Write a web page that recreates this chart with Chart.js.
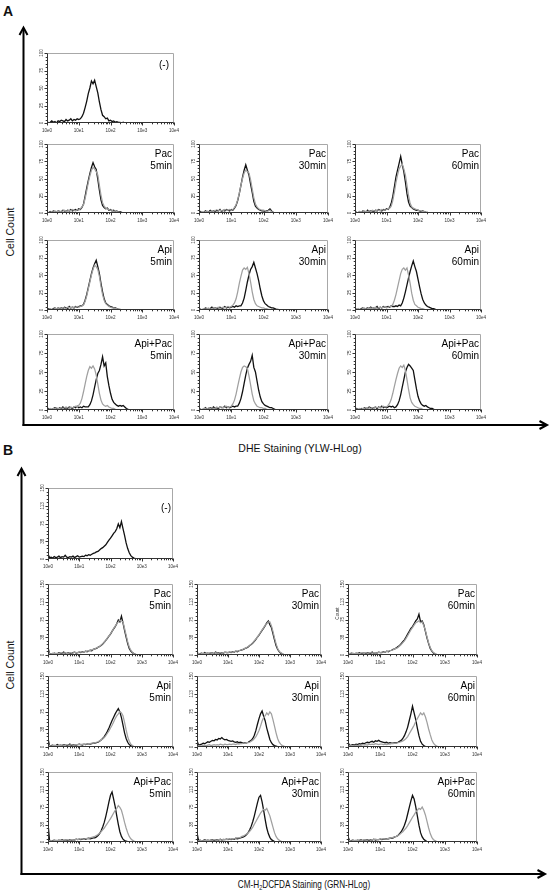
<!DOCTYPE html>
<html><head><meta charset="utf-8">
<script src="https://cdn.jsdelivr.net/npm/chart.js@4.4.1/dist/chart.umd.min.js"></script>
<style>
html,body{margin:0;padding:0;background:#fff;}
#page{position:relative;width:551px;height:893px;overflow:hidden;background:#fff;font-family:"Liberation Sans",Arial,sans-serif;}
#page canvas{position:absolute;}
.lbl{position:absolute;white-space:nowrap;color:#111;line-height:1;}
.rot{transform:translate(-50%,-50%) rotate(-90deg);}
.ctr{transform:translate(-50%,-50%);}
</style></head>
<body><div id="page">
<svg width="551" height="893" style="position:absolute;left:0;top:0">
 <g stroke="#000" stroke-width="2" fill="none">
  <line x1="23.5" y1="28" x2="23.5" y2="426"/>
  <line x1="22.5" y1="425" x2="546" y2="425"/>
  <polyline points="19.5,35 23.5,27.5 27.5,35"/>
  <polyline points="539.5,421 547,425 539.5,429"/>
  <line x1="21.5" y1="469" x2="21.5" y2="875"/>
  <line x1="20.5" y1="874" x2="544" y2="874"/>
  <polyline points="17.5,476 21.5,468.5 25.5,476"/>
  <polyline points="537.5,870 545,874 537.5,878"/>
 </g>
</svg>
<div class="lbl" style="left:3px;top:4px;font-size:14px;font-weight:bold;">A</div>
<div class="lbl" style="left:3px;top:443px;font-size:14px;font-weight:bold;">B</div>
<div class="lbl rot" style="left:10px;top:232px;font-size:10.5px;">Cell Count</div>
<div class="lbl rot" style="left:10px;top:665px;font-size:10.5px;">Cell Count</div>
<div class="lbl ctr" style="left:300px;top:448px;font-size:10.5px;">DHE Staining (YLW-HLog)</div>
<div class="lbl" style="left:304px;top:885px;font-size:10.5px;transform:translate(-50%,-50%) scaleX(0.78);">CM-H<span style="font-size:7px;vertical-align:-2px;">2</span>DCFDA Staining (GRN-HLog)</div>
</div>
<script>
// ---------- DATA ----------
const BIN_EXP = [0,0.05,0.1,0.15,0.2,0.25,0.3,0.35,0.4,0.45,0.5,0.55,0.6,0.65,0.7,0.75,0.8,0.85,0.9,0.95,1,1.05,1.1,1.15,1.2,1.25,1.3,1.35,1.4,1.45,1.5,1.55,1.6,1.65,1.7,1.75,1.8,1.85,1.9,1.95,2,2.05,2.1,2.15,2.2,2.25,2.3,2.35,2.4,2.45,2.5,2.55,2.6,2.65,2.7,2.75,2.8,2.85,2.9,2.95,3,3.05,3.1,3.15,3.2,3.25,3.3,3.35,3.4,3.45,3.5,3.55,3.6,3.65,3.7,3.75,3.8,3.85,3.9,3.95,4];
const X_TICKS = [1,10,100,1000,10000];
const X_TICK_LABELS = ['10e0','10e1','10e2','10e3','10e4'];
const X_MINOR_MULT = [2,3,4,5,6,7,8,9];
const A_Y_TICKS = [0,25,50,75,100];
const A_Y_LABELS = ['0','25','50','75','100'];
const B_Y_TICKS = [0,37.5,75,112.5,150];
const B_Y_LABELS = ['0','38','75','113','150'];

const A_NOTES = [['(-)'],['Pac','5min'],['Pac','30min'],['Pac','60min'],['Api','5min'],['Api','30min'],['Api','60min'],['Api+Pac','5min'],['Api+Pac','30min'],['Api+Pac','60min']];
const B_NOTES = A_NOTES;

// Panel A (DHE), counts vs log channel
const A_NEG_BLK  = [2,0,1,3,1,2,0,3,2,4,3,2,5,3,4,6,3,5,4,6,5, 6,9,14,22,31,42,50,60,56,61,52,43,30,19,11,9,6,7,3,4,2,3,1,2,1,1,0,1,0];
const A_PAC5_BLK = [1,0,2,1,3,2,1,3,2,2,4,3,2,4,3,5,3,4,5,4,6, 5,8,13,24,36,47,57,66,73,67,63,49,33,19,11,8,6,7,4,5,3,4,2,3,1,2,1,0];
const A_PAC5_GRY = [0,1,1,2,1,3,2,2,3,1,3,4,2,3,4,3,5,4,3,5,4, 6,9,12,21,32,44,54,62,66,64,60,55,40,26,15,10,7,6,5,4,4,2,3,2,1,1,0];
const A_PAC30_BLK= [1,2,0,1,3,1,2,4,2,3,2,4,3,5,2,4,3,5,4,3,5, 4,7,11,18,28,40,52,62,70,62,55,42,30,17,10,7,5,4,3,3,2,3,4,6,3,1,0];
const A_PAC30_GRY= [0,1,2,1,2,3,1,2,3,2,4,2,3,4,3,3,5,4,4,5,4, 5,8,12,19,29,40,50,58,62,60,58,48,35,22,13,9,6,5,4,4,3,2,3,4,2,1,0];
const A_PAC60_BLK= [2,1,0,2,1,3,2,1,4,2,3,3,2,4,3,5,4,3,5,4,6, 5,8,14,24,38,52,62,72,82,70,60,45,28,16,10,8,6,5,4,4,3,2,3,2,1,1,0];
const A_PAC60_GRY= [1,0,1,2,2,1,3,2,2,3,2,4,3,3,4,4,3,5,4,4,5, 6,7,10,18,30,44,55,64,68,71,64,55,40,25,14,9,7,6,5,4,3,3,2,2,1,0];
const A_API5_BLK = [1,2,1,0,2,3,1,3,2,3,2,4,3,2,5,3,4,3,5,4,5, 6,6,8,14,22,32,42,52,60,66,71,62,52,38,26,16,10,8,6,5,4,3,3,2,1,1,0];
const A_API5_GRY = [0,1,2,1,1,2,2,3,1,2,3,3,2,4,3,4,3,4,4,5,4, 5,6,7,12,20,30,40,50,58,64,62,58,48,34,22,14,9,7,5,4,3,3,2,2,1,0];
const A_API30_BLK= [2,1,0,1,3,2,1,2,4,2,3,2,3,4,2,3,5,3,4,3,4, 5,4,6,5,6,6,10,17,28,40,50,58,62,68,60,52,42,30,20,13,9,7,5,4,3,3,2,1,1,0];
const A_API30_GRY= [1,0,1,2,1,2,3,1,2,3,2,3,4,2,3,4,3,4,5,4,5, 7,10,16,26,38,48,57,60,58,61,52,40,26,15,9,6,5,4,3,3,2,2,1,1,0];
const A_API60_BLK= [2,1,1,0,2,3,1,2,3,2,4,2,3,3,5,2,4,3,5,4,4, 5,4,6,5,5,6,5,7,6,10,17,26,36,46,55,63,70,62,55,44,33,23,15,10,7,5,4,3,2,2,1,0];
const A_API60_GRY= [1,0,2,1,1,2,3,1,2,2,3,2,3,4,2,3,4,3,4,5,3, 4,5,5,8,14,22,32,42,52,58,60,57,60,50,38,24,14,8,6,4,3,2,2,1,0];
const A_AP5_BLK  = [1,2,0,1,2,3,2,1,3,2,4,2,3,2,4,3,2,4,3,5,3, 4,3,5,4,4,4,7,12,20,30,40,48,52,60,70,58,62,44,32,22,14,10,8,6,5,6,5,6,4,2,1,0];
const A_AP5_GRY  = [0,1,2,1,2,1,3,2,2,3,2,3,4,3,2,4,3,4,5,4,6, 9,15,24,34,44,52,57,55,58,54,46,34,22,13,8,6,5,6,4,3,2,2,1,0];
const A_AP30_BLK = [2,1,0,1,3,1,2,3,2,4,2,3,2,4,3,3,5,3,4,3,4, 5,4,5,5,9,15,24,35,46,55,60,64,72,56,50,38,26,17,11,8,6,5,4,3,3,2,1,0];
const A_AP30_GRY = [1,0,1,2,2,1,3,2,3,2,2,4,3,3,4,3,4,5,3,4,5, 8,13,21,31,41,50,56,58,57,55,45,33,21,12,8,5,4,3,3,2,2,1,0];
const A_AP60_BLK = [1,2,1,0,2,1,3,2,2,4,3,2,3,4,2,4,3,5,3,4,3, 4,5,4,5,3,4,7,12,20,30,40,50,56,60,58,55,52,40,28,18,12,8,6,5,6,4,3,2,2,1,0];
const A_AP60_GRY = [0,1,1,2,1,2,2,3,1,3,2,3,2,4,3,3,4,3,5,4,4, 6,9,14,22,31,40,48,55,58,56,59,52,40,27,16,10,7,5,4,3,2,2,1,0];

// Panel B (CM-H2DCFDA)
const B_NEG_BLK  = [10,3,4,2,5,3,4,6,3,5,4,8,4,3,5,4,6,3,5,7,4, 5,6,5,8,7,9,8,10,12,13,15,16,19,22,24,27,30,35,40,44,49,54,58,64,74,66,79,64,50,34,22,13,7,4,2,1,0];
const B_PAC5_BLK = [16,2,3,2,4,3,2,5,4,3,6,4,3,5,4,3,5,6,4,5,6, 5,7,6,8,7,9,10,9,12,13,14,16,18,20,23,27,31,35,40,44,50,55,60,66,74,70,82,68,52,38,24,14,8,5,3,1,0];
const B_PAC5_GRY = [8,3,2,4,3,3,4,3,5,4,4,5,3,4,5,4,4,6,5,5,6, 6,6,7,7,8,9,9,11,12,13,15,16,18,21,24,27,31,36,40,45,50,56,61,66,70,74,72,70,56,42,28,17,10,6,3,2,0];
const B_PAC30_BLK= [6,2,3,4,2,5,3,4,3,5,4,3,6,4,5,3,5,4,6,5,5, 6,5,7,6,8,7,9,10,11,12,14,15,17,20,22,25,29,33,38,42,47,52,57,62,68,72,64,58,45,32,20,12,7,4,2,1,0];
const B_PAC30_GRY= [4,3,2,3,4,3,4,3,4,5,3,4,5,4,4,5,4,5,5,6,5, 6,6,6,7,8,8,9,10,11,13,14,16,18,20,23,26,30,34,38,43,48,53,58,63,66,70,70,62,50,36,24,14,8,5,3,1,0];
const B_PAC60_BLK= [5,2,4,3,2,4,3,5,3,4,4,3,5,4,3,6,4,5,4,6,5, 5,7,6,8,7,9,10,12,13,15,18,20,24,28,32,38,44,50,56,60,66,72,76,86,70,72,64,50,36,24,14,8,4,2,1,0];
const B_PAC60_GRY= [4,3,2,4,3,3,4,3,4,5,3,5,4,4,5,4,5,5,4,6,5, 6,6,7,7,8,9,10,11,13,14,16,19,22,26,30,35,41,47,53,58,63,68,70,72,68,70,62,52,38,26,16,9,5,3,1,0];
const B_API5_BLK = [18,2,3,4,2,3,5,3,4,3,5,4,3,4,6,3,5,4,4,5,6, 5,4,6,5,6,7,6,7,8,8,9,10,12,15,18,22,27,33,40,48,56,63,70,76,81,74,62,46,30,18,10,5,3,1,0];
const B_API5_GRY = [6,3,2,3,4,3,3,4,3,4,4,3,5,4,4,5,4,4,5,5,5, 5,6,5,6,6,7,7,8,8,9,10,11,13,15,17,20,24,29,34,40,46,53,60,66,70,75,72,66,52,36,22,12,6,3,1,0];
const B_API30_BLK= [14,4,5,6,8,7,9,11,10,12,14,13,16,15,18,17,20,17,15,16,14, 13,12,13,11,10,11,9,10,9,8,9,9,10,12,14,18,25,35,48,60,70,76,65,55,40,28,16,9,5,3,2,1,0];
const B_API30_GRY= [6,2,3,2,4,3,3,4,5,3,4,5,4,5,4,6,5,4,6,5,5, 6,5,6,6,5,7,6,7,7,8,8,9,9,10,12,14,18,22,28,35,44,55,62,66,72,68,74,70,58,44,30,18,10,6,3,2,0];
const B_API60_BLK= [10,3,4,5,4,6,5,7,6,8,7,9,10,9,11,12,10,13,12,14,12, 11,10,9,10,8,9,8,8,9,9,10,12,14,18,24,32,42,56,70,86,72,58,40,24,12,6,3,1,0];
const B_API60_GRY= [5,2,3,3,2,4,3,4,3,5,4,5,4,6,5,6,5,7,6,5,6, 6,5,6,5,6,6,7,7,8,8,9,10,11,13,15,18,22,28,34,40,46,54,60,66,72,68,72,64,52,38,26,15,8,4,2,1,0];
const B_AP5_BLK  = [40,3,2,3,4,2,3,4,3,5,3,4,4,3,5,4,5,4,6,5,6, 5,6,7,6,7,8,7,8,9,9,11,14,18,24,32,42,55,70,86,100,107,92,76,56,38,22,12,6,3,2,1,0];
const B_AP5_GRY  = [5,2,3,2,3,4,3,3,4,3,4,4,5,4,4,5,5,4,6,5,6, 6,7,6,7,8,8,9,10,11,12,14,16,19,22,26,30,35,40,45,50,56,62,68,72,78,74,68,56,42,30,20,12,7,4,2,1,0];
const B_AP30_BLK = [20,3,4,2,3,5,3,4,3,4,5,3,4,5,4,6,4,5,5,6,5, 6,5,7,6,8,7,8,9,10,11,13,16,20,26,34,44,56,70,84,96,100,86,68,48,30,18,10,5,3,1,0];
const B_AP30_GRY = [4,2,3,3,2,4,3,4,3,4,4,5,4,4,5,5,4,6,5,5,6, 6,6,7,7,8,9,9,10,12,13,15,17,20,23,27,32,38,44,50,56,62,66,70,68,72,64,56,44,32,20,12,7,4,2,1,0];
const B_AP60_BLK = [12,2,3,4,3,2,4,3,5,3,4,4,5,3,5,4,6,4,5,5,6, 5,6,6,7,7,8,8,9,11,12,14,18,22,28,36,46,60,74,88,100,92,76,56,36,20,11,6,3,1,0];
const B_AP60_GRY = [4,3,2,3,3,4,3,4,4,3,5,4,4,5,4,5,5,6,5,5,6, 6,7,6,7,8,8,9,10,11,12,14,16,19,22,26,30,35,41,47,53,58,64,68,72,70,75,68,58,44,30,18,10,5,3,1,0];

const A_BLACK = [A_NEG_BLK,A_PAC5_BLK,A_PAC30_BLK,A_PAC60_BLK,A_API5_BLK,A_API30_BLK,A_API60_BLK,A_AP5_BLK,A_AP30_BLK,A_AP60_BLK];
const A_GRAY  = [null,A_PAC5_GRY,A_PAC30_GRY,A_PAC60_GRY,A_API5_GRY,A_API30_GRY,A_API60_GRY,A_AP5_GRY,A_AP30_GRY,A_AP60_GRY];
const B_BLACK = [B_NEG_BLK,B_PAC5_BLK,B_PAC30_BLK,B_PAC60_BLK,B_API5_BLK,B_API30_BLK,B_API60_BLK,B_AP5_BLK,B_AP30_BLK,B_AP60_BLK];
const B_GRAY  = [null,B_PAC5_GRY,B_PAC30_GRY,B_PAC60_GRY,B_API5_GRY,B_API30_GRY,B_API60_GRY,B_AP5_GRY,B_AP30_GRY,B_AP60_GRY];

// ---------- LAYOUT ----------
const LAYOUT_A = {cols:[47,199,355], colw:[127,129,126], rows:[53,144,240,334], rowh:[70,69,70,76], negNote:{dx:5,dy:15}};
const LAYOUT_B = {cols:[48,197,348], colw:[125,124,129], rows:[488,584,676,772], rowh:[71,71,71,70], negNote:{dx:2,dy:23}};
const COL_BLACK = '#111111', COL_GRAY = '#a0a0a0';
const TICK_FONT = '4.6px "Liberation Sans", Arial, sans-serif';
const NOTE_FONT = '10px "Liberation Sans", Arial, sans-serif';

const cellPlugin = {
  id: 'cell',
  beforeDatasetsDraw(chart, args, o) {
    const {ctx, chartArea:a} = chart;
    const L = Math.round(a.left)+0.5, R = Math.round(a.right)-0.5, T = Math.round(a.top)+0.5, B = Math.round(a.bottom)-0.5;
    ctx.save();
    ctx.lineWidth = 1; ctx.strokeStyle = '#a8a8a8';
    ctx.beginPath(); ctx.moveTo(L,T); ctx.lineTo(R,T); ctx.lineTo(R,B); ctx.stroke();
    ctx.restore();
  },
  afterDatasetsDraw(chart, args, o) {
    const {ctx, chartArea:a} = chart;
    const xs = chart.scales.x, ys = chart.scales.y;
    const L = Math.round(a.left)+0.5, R = Math.round(a.right)-0.5, T = Math.round(a.top)+0.5, B = Math.round(a.bottom)-0.5;
    ctx.save();
    ctx.strokeStyle = '#333'; ctx.lineWidth = 1;
    ctx.beginPath(); ctx.moveTo(L,T); ctx.lineTo(L,B); ctx.lineTo(R,B); ctx.stroke();
    ctx.beginPath();
    X_TICKS.forEach((t,i) => {
      const px = Math.round(xs.getPixelForValue(t))+0.5;
      ctx.moveTo(px,B); ctx.lineTo(px,B+3);
      if (i < X_TICKS.length-1) X_MINOR_MULT.forEach(m => {
        const q = Math.round(xs.getPixelForValue(t*m))+0.5;
        ctx.moveTo(q,B); ctx.lineTo(q,B+1.8);
      });
    });
    const yt = o.yTicks;
    yt.forEach((t,i) => {
      const py = Math.round(ys.getPixelForValue(t))+0.5;
      ctx.moveTo(L,py); ctx.lineTo(L-3,py);
      if (i < yt.length-1) for (let j=1;j<5;j++) {
        const q = Math.round(ys.getPixelForValue(t + (yt[i+1]-t)*j/5))+0.5;
        ctx.moveTo(L,q); ctx.lineTo(L-1.8,q);
      }
    });
    ctx.stroke();
    ctx.fillStyle = '#333'; ctx.font = TICK_FONT;
    ctx.textAlign = 'center'; ctx.textBaseline = 'alphabetic';
    X_TICKS.forEach((t,i) => ctx.fillText(X_TICK_LABELS[i], xs.getPixelForValue(t), B+9));
    yt.forEach((t,i) => {
      ctx.save(); ctx.translate(L-5, ys.getPixelForValue(t)); ctx.rotate(-Math.PI/2);
      ctx.textBaseline = 'bottom'; ctx.fillText(o.yLabels[i], 0, 1.5); ctx.restore();
    });
    if (o.yTitle) {
      ctx.save(); ctx.translate(L-10, (T+B)/2 - 6); ctx.rotate(-Math.PI/2);
      ctx.textBaseline = 'bottom'; ctx.fillText(o.yTitle, 0, 1.5); ctx.restore();
    }
    ctx.fillStyle = '#000'; ctx.font = NOTE_FONT; ctx.textAlign = 'right';
    o.note.forEach((s,i) => ctx.fillText(s, a.right - o.noteDx, a.top + o.noteDy + i*12));
    ctx.restore();
  }
};
Chart.register(cellPlugin);

const page = document.getElementById('page');
const PL=14, PT=5, PR=9, PB=12;

function addCell(box, yMax, yTicks, yLabels, black, gray, note, noteDx, noteDy, yTitle) {
  const c = document.createElement('canvas');
  c.width = box.w + PL + PR; c.height = box.h + PT + PB;
  c.style.left = (box.x - PL) + 'px'; c.style.top = (box.y - PT) + 'px';
  page.appendChild(c);
  const toPts = arr => arr.map((v,i) => ({x: Math.pow(10, BIN_EXP[i]), y: v}));
  const datasets = [];
  if (gray) datasets.push({data: toPts(gray), borderColor: COL_GRAY, borderWidth: 1.25, pointRadius: 0, tension: 0, fill: false});
  datasets.push({data: toPts(black), borderColor: COL_BLACK, borderWidth: 1.3, pointRadius: 0, tension: 0, fill: false});
  new Chart(c, {
    type: 'line',
    data: {datasets},
    options: {
      responsive: false, animation: false, devicePixelRatio: 1, events: [],
      layout: {padding: {left: 0, top: PT, right: PR, bottom: 0}},
      plugins: {legend: {display: false}, tooltip: {enabled: false},
        cell: {yTicks, yLabels, note, noteDx, noteDy, yTitle}},
      scales: {
        x: {type: 'logarithmic', min: 1, max: 10000, ticks: {display: false}, grid: {display: false}, border: {display: false},
            afterFit: s => { s.height = PB; }},
        y: {type: 'linear', min: 0, max: yMax, ticks: {display: false}, grid: {display: false}, border: {display: false},
            afterFit: s => { s.width = PL; }}
      }
    }
  });
}

function buildPanel(lay, yMax, yTicks, yLabels, blacks, grays, notes, titles) {
  blacks.forEach((bk, k) => {
    const r = k === 0 ? 0 : 1 + Math.floor((k-1)/3);
    const col = k === 0 ? 0 : (k-1) % 3;
    const box = {x: lay.cols[col], y: lay.rows[r], w: lay.colw[col], h: lay.rowh[r]};
    const dx = k === 0 ? lay.negNote.dx : 2;
    const dy = k === 0 ? lay.negNote.dy : 13;
    addCell(box, yMax, yTicks, yLabels, bk, grays[k], notes[k], dx, dy, titles ? titles[k] : null);
  });
}

buildPanel(LAYOUT_A, 100, A_Y_TICKS, A_Y_LABELS, A_BLACK, A_GRAY, A_NOTES, null);
buildPanel(LAYOUT_B, 150, B_Y_TICKS, B_Y_LABELS, B_BLACK, B_GRAY, B_NOTES, [null,null,null,'Count',null,null,null,null,null,null]);
</script>
</body></html>
